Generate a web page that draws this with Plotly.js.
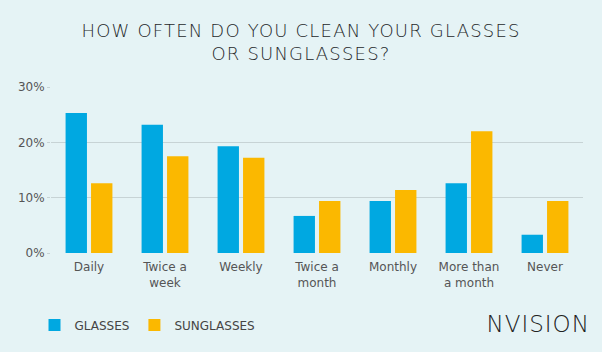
<!DOCTYPE html>
<html>
<head>
<meta charset="utf-8">
<script src="https://cdn.plot.ly/plotly-3.0.1.min.js"></script>
<style>
html,body{margin:0;padding:0;background:#e5f3f5;}
#chart{width:602px;height:352px;}
#chart .gtitle{letter-spacing:1.2px;}
#chart .annotation-text{letter-spacing:1px;}
</style>
</head>
<body>
<div id="chart"></div>
<script>
const categories = ["Daily", "Twice a<br>week", "Weekly", "Twice a<br>month", "Monthly", "More than<br>a month", "Never"];
const glasses = [25.3, 23.2, 19.3, 6.7, 9.4, 12.6, 3.3];
const sunglasses = [12.6, 17.5, 17.2, 9.4, 11.4, 22.0, 9.4];
const yTickVals = [0, 10, 20, 30];
const yTickText = ["0%", "10%", "20%", "30%"];

const fontMain = "'DejaVu Sans', 'Open Sans', sans-serif";

const traces = [
  {type: "bar", name: "GLASSES", x: categories, y: glasses, marker: {color: "#00a8e1"}, hoverinfo: "none"},
  {type: "bar", name: "SUNGLASSES", x: categories, y: sunglasses, marker: {color: "#fbb800"}, hoverinfo: "none"}
];

const layout = {
  width: 602, height: 352,
  paper_bgcolor: "#e5f3f5", plot_bgcolor: "#e5f3f5",
  margin: {l: 51, r: 19, t: 87, b: 99},
  barmode: "group", bargap: 0.33, bargroupgap: 0.16,
  title: {
    text: "HOW OFTEN DO YOU CLEAN YOUR GLASSES<br>OR SUNGLASSES?",
    font: {family: fontMain, size: 18, color: "#26292b", weight: 300},
    x: 0.5, xanchor: "center", y: 1 - 37/352, yanchor: "middle", yref: "container"
  },
  xaxis: {
    type: "category", showgrid: false, zeroline: false, showline: false,
    tickfont: {family: fontMain, size: 12, color: "#555"}, ticks: "",
    ticklabelstandoff: 5
  },
  yaxis: {
    range: [0, 30], tickvals: yTickVals, ticktext: yTickText,
    showgrid: true, gridcolor: "#c7d3d5", gridwidth: 1, zeroline: false,
    ticks: "outside", ticklen: 3, tickcolor: "#c7d3d5",
    tickfont: {family: fontMain, size: 12, color: "#555"}
  },
  showlegend: true,
  legend: {
    orientation: "h", x: -0.031, xanchor: "left",
    y: 1 - 325/352, yref: "container", yanchor: "middle",
    font: {family: fontMain, size: 12, color: "#444"},
    bgcolor: "rgba(0,0,0,0)", itemclick: false, traceorder: "normal"
  },
  annotations: [{
    text: "NVISION", xref: "paper", yref: "paper",
    x: (588 - 51) / 532, xanchor: "right",
    y: -(324 - 253) / 166, yanchor: "middle",
    showarrow: false,
    font: {family: fontMain, size: 23, color: "#222", weight: 200}
  }]
};

Plotly.newPlot("chart", traces, layout, {displayModeBar: false, staticPlot: true});
</script>
</body>
</html>
